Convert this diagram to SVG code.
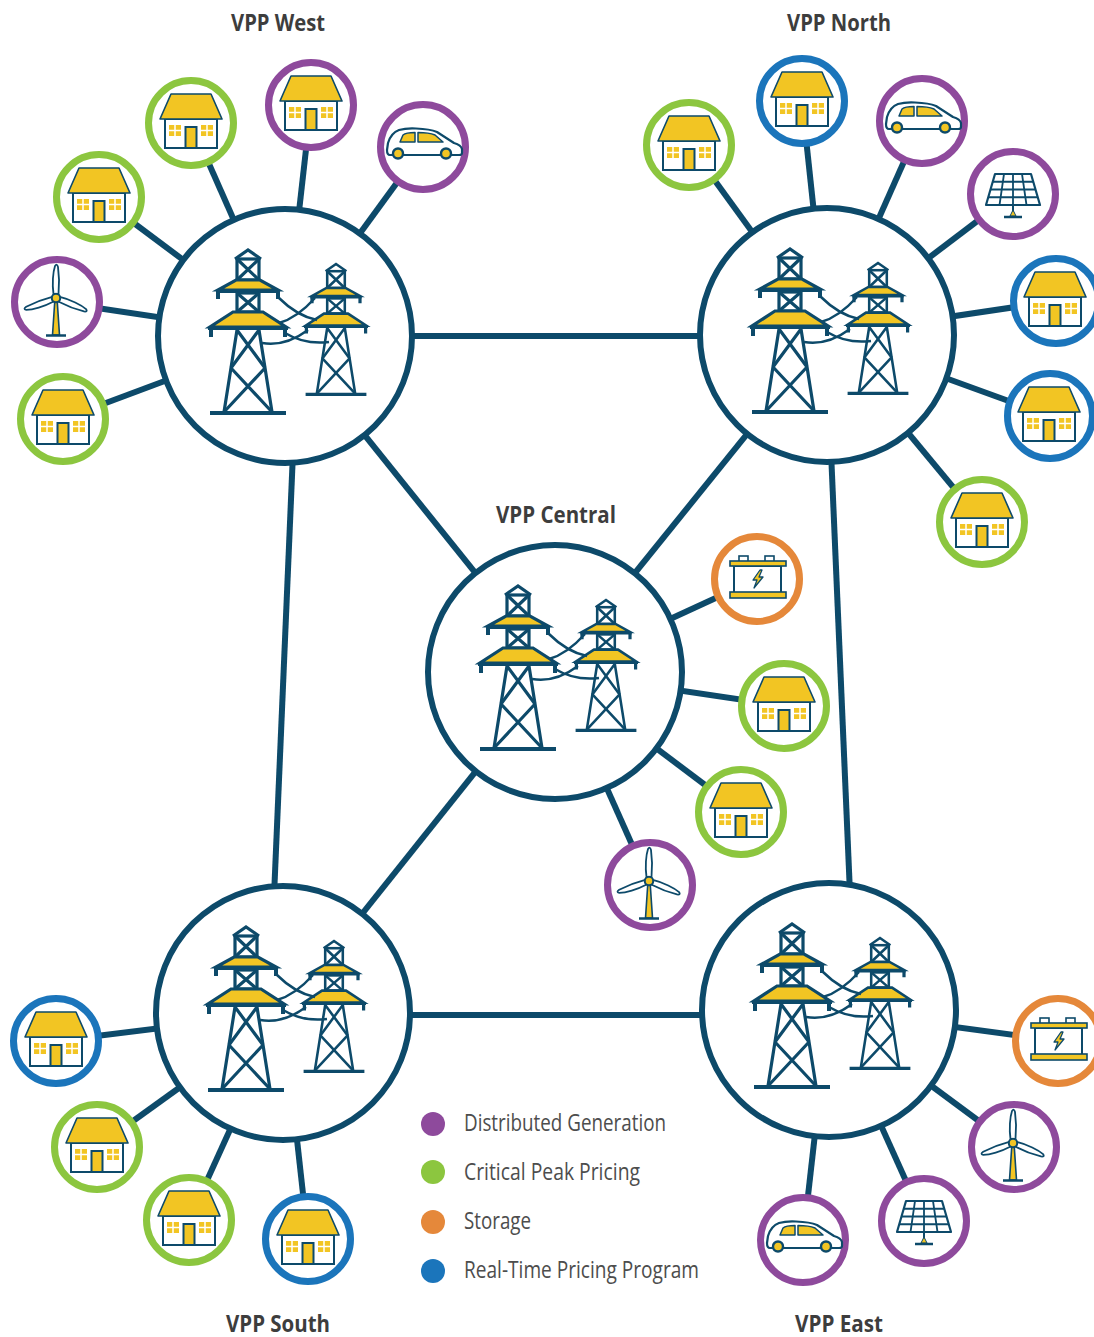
<svg xmlns="http://www.w3.org/2000/svg" xmlns:xlink="http://www.w3.org/1999/xlink" width="1094" height="1337" viewBox="0 0 1094 1337">
  <style>
    .ink { stroke: #0d4a6a; }
    .link { stroke: #0d4a6a; stroke-width: 6; fill: none; stroke-linecap: butt; }
    .hub { fill: #ffffff; stroke: #0d4a6a; stroke-width: 6; }
    .sat { fill: #ffffff; stroke-width: 7; }
    .dg { stroke: #8e4a9c; }
    .cpp { stroke: #8cc63f; }
    .st { stroke: #e5883a; }
    .rtp { stroke: #1b75bb; }
    .title { font-family: "Open Sans", "Liberation Sans", sans-serif; font-weight: bold; font-size: 24px; fill: #3d3d3d; text-anchor: middle; }
    .legend { font-family: "Open Sans", "Liberation Sans", sans-serif; font-size: 23px; fill: #4d4d4d; }
  </style>
  <defs>
    <!-- transmission tower, peak at origin -->
    <g id="tower" fill="none" stroke="#0d4a6a" stroke-width="3.2" stroke-linejoin="miter">
      <path d="M-13,9 L0,0 L13,9"/>
      <rect x="-11" y="9" width="22" height="21"/>
      <path d="M-11,9 L11,30 M11,9 L-11,30"/>
      <path d="M-12,30 L12,30 L30,40 L-30,40 Z" fill="#f2c523"/>
      <path d="M-32,41.5 H32"/>
      <path d="M-30,41 V49 M30,41 V49" stroke-width="4"/>
      <rect x="-11" y="43" width="22" height="19"/>
      <path d="M-11,43 L11,62 M11,43 L-11,62"/>
      <path d="M-15,62 L15,62 L38,77 L-38,77 Z" fill="#f2c523"/>
      <path d="M-40,78.5 H40"/>
      <path d="M-37,78 V87 M37,78 V87" stroke-width="4"/>
      <path d="M-11,80 L-24,162 M11,80 L24,162"/>
      <path d="M-11,80 L17,118 M11,80 L-17,118 M-17,118 L24,162 M17,118 L-24,162"/>
      <path d="M-38,163 H38" stroke-width="4"/>
    </g>
    <!-- pair of towers with sagging lines, hub centre at origin -->
    <g id="towers">
      <use href="#tower" transform="translate(-37,-86)"/>
      <use href="#tower" transform="translate(51,-72) scale(0.8)"/>
      <path d="M-6,-38 Q12,-20 32,-16 M30,-38 Q12,-18 -6,-13 M0,-3 Q20,9 44,6 M23,-6 Q0,11 -23,7" fill="none" stroke="#0d4a6a" stroke-width="2.5"/>
    </g>
    <!-- house -->
    <g id="house">
      <rect x="-26" y="-4" width="52" height="29" fill="#ffffff" stroke="#0d4a6a" stroke-width="2"/>
      <path d="M-20,-29 H20 L31,-4 H-31 Z" fill="#f2c523" stroke="#0d4a6a" stroke-width="1.6" stroke-linejoin="round"/>
      <rect x="-5.5" y="4" width="11" height="21" fill="#f2c523" stroke="#0d4a6a" stroke-width="2"/>
      <rect x="-22" y="2" width="12" height="11" fill="#f2c523"/>
      <rect x="10" y="2" width="12" height="11" fill="#f2c523"/>
      <path d="M-16,2 V13 M-22,7.5 H-10 M16,2 V13 M10,7.5 H22" stroke="#ffffff" stroke-width="1.5"/>
    </g>
    <!-- hatchback car -->
    <g id="car">
      <path d="M-34,8 Q-37,8 -37,3 L-36,-4 Q-33,-14 -25,-17 Q-18,-19 -8,-18.5 Q6,-18 13,-15 L30,-4 Q37,-2 38,2 L38,6 Q38,8 35,8 Z" fill="#ffffff" stroke="#0d4a6a" stroke-width="2.2" stroke-linejoin="round"/>
      <path d="M-24,-5 L-21,-12 Q-18,-14.5 -9,-14.5 L-9,-5 Z" fill="#f2c523" stroke="#0d4a6a" stroke-width="1.5" stroke-linejoin="round"/>
      <path d="M-6,-5 L-6,-14.5 Q5,-14.5 11,-12 L19,-5 Z" fill="#f2c523" stroke="#0d4a6a" stroke-width="1.5" stroke-linejoin="round"/>
      <circle cx="-26" cy="6.5" r="5" fill="#f2c523" stroke="#0d4a6a" stroke-width="2.4"/>
      <circle cx="22" cy="6.5" r="5" fill="#f2c523" stroke="#0d4a6a" stroke-width="2.4"/>
    </g>
    <!-- solar panel -->
    <g id="solar" fill="none" stroke="#0d4a6a">
      <path d="M0,11 V22" stroke-width="2"/>
      <path d="M-3,22 L0,16 L3,22 Z" fill="#f2c523" stroke-width="1"/>
      <path d="M-9,23 H9" stroke-width="2.5"/>
      <path d="M-18,-20 H18 L27,11 H-27 Z" fill="#ffffff" stroke-width="2.2" stroke-linejoin="round"/>
      <path d="M-9,-20 L-13.5,11 M0,-20 V11 M9,-20 L13.5,11 M-20.25,-12.25 H20.25 M-22.5,-4.5 H22.5 M-24.75,3.25 H24.75" stroke-width="1.8"/>
    </g>
    <!-- wind turbine blade pointing up from the rotor -->
    <path id="blade" d="M-2.5,-4 C-4,-14 -3,-26 -1,-32 Q1,-35 2,-31 C3,-24 3.5,-14 2.5,-4 Z" fill="#ffffff" stroke="#0d4a6a" stroke-width="1.8" stroke-linejoin="round"/>
    <g id="wind">
      <path d="M-1,0 L1,0 L3.5,37 L-3.5,37 Z" fill="#f2c523" stroke="#0d4a6a" stroke-width="1.6"/>
      <path d="M-10,37.5 H10" stroke="#0d4a6a" stroke-width="2.5"/>
      <use href="#blade"/>
      <use href="#blade" transform="rotate(112)"/>
      <use href="#blade" transform="rotate(250)"/>
      <circle r="4.2" fill="#f2c523" stroke="#0d4a6a" stroke-width="2"/>
    </g>
    <!-- battery -->
    <g id="battery" stroke="#0d4a6a">
      <rect x="-18" y="-23" width="9" height="6" fill="#ffffff" stroke-width="1.6"/>
      <rect x="8" y="-23" width="9" height="6" fill="#ffffff" stroke-width="1.6"/>
      <rect x="-23" y="-13" width="47" height="27" fill="#ffffff" stroke-width="2"/>
      <rect x="-27" y="-18" width="56" height="5" fill="#f2c523" stroke-width="1.6"/>
      <rect x="-27" y="13" width="56" height="6" fill="#f2c523" stroke-width="1.6"/>
      <path d="M3,-9 L-4,1 L0,1 L-3,9 L6,-2 L2,-2 L5,-9 Z" fill="#f2c523" stroke-width="1.3" stroke-linejoin="round"/>
    </g>
  </defs>

  <!-- connectors -->
  <g id="connectors" class="link">
    <!-- hub to hub -->
    <line x1="285" y1="336" x2="827" y2="336"/>
    <line x1="298" y1="336" x2="269" y2="1013"/>
    <line x1="826" y1="335" x2="855" y2="1010"/>
    <line x1="285" y1="336" x2="555" y2="672"/>
    <line x1="827" y1="335" x2="555" y2="672"/>
    <line x1="283" y1="1013" x2="555" y2="672"/>
    <line x1="283" y1="1015" x2="829" y2="1015"/>
    <!-- West spokes -->
    <line x1="285" y1="336" x2="191" y2="123"/>
    <line x1="285" y1="336" x2="311" y2="105"/>
    <line x1="285" y1="336" x2="423" y2="147"/>
    <line x1="285" y1="336" x2="99" y2="197"/>
    <line x1="285" y1="336" x2="57" y2="302"/>
    <line x1="285" y1="336" x2="63" y2="419"/>
    <!-- North spokes -->
    <line x1="827" y1="335" x2="689" y2="145"/>
    <line x1="827" y1="335" x2="802" y2="101"/>
    <line x1="827" y1="335" x2="922" y2="121"/>
    <line x1="827" y1="335" x2="1013" y2="194"/>
    <line x1="827" y1="335" x2="1056" y2="301"/>
    <line x1="827" y1="335" x2="1050" y2="416"/>
    <line x1="827" y1="335" x2="982" y2="522"/>
    <!-- Central spokes -->
    <line x1="555" y1="672" x2="757" y2="579"/>
    <line x1="555" y1="672" x2="784" y2="706"/>
    <line x1="555" y1="672" x2="741" y2="812"/>
    <line x1="555" y1="672" x2="650" y2="885"/>
    <!-- South spokes -->
    <line x1="283" y1="1013" x2="56" y2="1041"/>
    <line x1="283" y1="1013" x2="97" y2="1147"/>
    <line x1="283" y1="1013" x2="189" y2="1220"/>
    <line x1="283" y1="1013" x2="308" y2="1239"/>
    <!-- East spokes -->
    <line x1="829" y1="1010" x2="1058" y2="1041"/>
    <line x1="829" y1="1010" x2="1014" y2="1147"/>
    <line x1="829" y1="1010" x2="924" y2="1221"/>
    <line x1="829" y1="1010" x2="803" y2="1240"/>
  </g>

  <!-- hubs -->
  <g id="vpp-west">
    <circle class="hub" cx="285" cy="336" r="127"/>
    <use href="#towers" transform="translate(285,336)"/>
    <text class="title" x="278" y="31" textLength="94" lengthAdjust="spacingAndGlyphs">VPP West</text>
  </g>
  <g id="vpp-north">
    <circle class="hub" cx="827" cy="335" r="127"/>
    <use href="#towers" transform="translate(827,335)"/>
    <text class="title" x="839" y="31" textLength="104" lengthAdjust="spacingAndGlyphs">VPP North</text>
  </g>
  <g id="vpp-central">
    <circle class="hub" cx="555" cy="672" r="127"/>
    <use href="#towers" transform="translate(555,672)"/>
    <text class="title" x="556" y="523" textLength="120" lengthAdjust="spacingAndGlyphs">VPP Central</text>
  </g>
  <g id="vpp-south">
    <circle class="hub" cx="283" cy="1013" r="127"/>
    <use href="#towers" transform="translate(283,1013)"/>
    <text class="title" x="278" y="1332" textLength="104" lengthAdjust="spacingAndGlyphs">VPP South</text>
  </g>
  <g id="vpp-east">
    <circle class="hub" cx="829" cy="1010" r="127"/>
    <use href="#towers" transform="translate(829,1010)"/>
    <text class="title" x="839" y="1332" textLength="88" lengthAdjust="spacingAndGlyphs">VPP East</text>
  </g>

  <!-- West resources -->
  <g id="w-house-1"><circle class="sat cpp" cx="191" cy="123" r="42.5"/><use href="#house" transform="translate(191,123)"/></g>
  <g id="w-house-2"><circle class="sat dg" cx="311" cy="105" r="42.5"/><use href="#house" transform="translate(311,105)"/></g>
  <g id="w-car"><circle class="sat dg" cx="423" cy="147" r="42.5"/><use href="#car" transform="translate(424,147)"/></g>
  <g id="w-house-3"><circle class="sat cpp" cx="99" cy="197" r="42.5"/><use href="#house" transform="translate(99,197)"/></g>
  <g id="w-wind"><circle class="sat dg" cx="57" cy="302" r="42.5"/><use href="#wind" transform="translate(56,298)"/></g>
  <g id="w-house-4"><circle class="sat cpp" cx="63" cy="419" r="42.5"/><use href="#house" transform="translate(63,419)"/></g>

  <!-- North resources -->
  <g id="n-house-1"><circle class="sat cpp" cx="689" cy="145" r="42.5"/><use href="#house" transform="translate(689,145)"/></g>
  <g id="n-house-2"><circle class="sat rtp" cx="802" cy="101" r="42.5"/><use href="#house" transform="translate(802,101)"/></g>
  <g id="n-car"><circle class="sat dg" cx="922" cy="121" r="42.5"/><use href="#car" transform="translate(923,121)"/></g>
  <g id="n-solar"><circle class="sat dg" cx="1013" cy="194" r="42.5"/><use href="#solar" transform="translate(1013,194)"/></g>
  <g id="n-house-3"><circle class="sat rtp" cx="1056" cy="301" r="42.5"/><use href="#house" transform="translate(1055,301)"/></g>
  <g id="n-house-4"><circle class="sat rtp" cx="1050" cy="416" r="42.5"/><use href="#house" transform="translate(1049,416)"/></g>
  <g id="n-house-5"><circle class="sat cpp" cx="982" cy="522" r="42.5"/><use href="#house" transform="translate(982,522)"/></g>

  <!-- Central resources -->
  <g id="c-battery"><circle class="sat st" cx="757" cy="579" r="42.5"/><use href="#battery" transform="translate(757,579)"/></g>
  <g id="c-house-1"><circle class="sat cpp" cx="784" cy="706" r="42.5"/><use href="#house" transform="translate(784,706)"/></g>
  <g id="c-house-2"><circle class="sat cpp" cx="741" cy="812" r="42.5"/><use href="#house" transform="translate(741,812)"/></g>
  <g id="c-wind"><circle class="sat dg" cx="650" cy="885" r="42.5"/><use href="#wind" transform="translate(649,881)"/></g>

  <!-- South resources -->
  <g id="s-house-1"><circle class="sat rtp" cx="56" cy="1041" r="42.5"/><use href="#house" transform="translate(56,1041)"/></g>
  <g id="s-house-2"><circle class="sat cpp" cx="97" cy="1147" r="42.5"/><use href="#house" transform="translate(97,1147)"/></g>
  <g id="s-house-3"><circle class="sat cpp" cx="189" cy="1220" r="42.5"/><use href="#house" transform="translate(189,1220)"/></g>
  <g id="s-house-4"><circle class="sat rtp" cx="308" cy="1239" r="42.5"/><use href="#house" transform="translate(308,1239)"/></g>

  <!-- East resources -->
  <g id="e-battery"><circle class="sat st" cx="1058" cy="1041" r="42.5"/><use href="#battery" transform="translate(1058,1041)"/></g>
  <g id="e-wind"><circle class="sat dg" cx="1014" cy="1147" r="42.5"/><use href="#wind" transform="translate(1013,1143)"/></g>
  <g id="e-solar"><circle class="sat dg" cx="924" cy="1221" r="42.5"/><use href="#solar" transform="translate(924,1221)"/></g>
  <g id="e-car"><circle class="sat dg" cx="803" cy="1240" r="42.5"/><use href="#car" transform="translate(804,1240)"/></g>

  <!-- legend -->
  <g id="legend">
    <circle cx="433" cy="1124" r="12" fill="#8e4a9c"/>
    <circle cx="433" cy="1172" r="12" fill="#8cc63f"/>
    <circle cx="433" cy="1222" r="12" fill="#e5883a"/>
    <circle cx="433" cy="1271" r="12" fill="#1b75bb"/>
    <text class="legend" x="464" y="1131" textLength="202" lengthAdjust="spacingAndGlyphs">Distributed Generation</text>
    <text class="legend" x="464" y="1180" textLength="176" lengthAdjust="spacingAndGlyphs">Critical Peak Pricing</text>
    <text class="legend" x="464" y="1229" textLength="67" lengthAdjust="spacingAndGlyphs">Storage</text>
    <text class="legend" x="464" y="1278" textLength="235" lengthAdjust="spacingAndGlyphs">Real-Time Pricing Program</text>
  </g>
</svg>
